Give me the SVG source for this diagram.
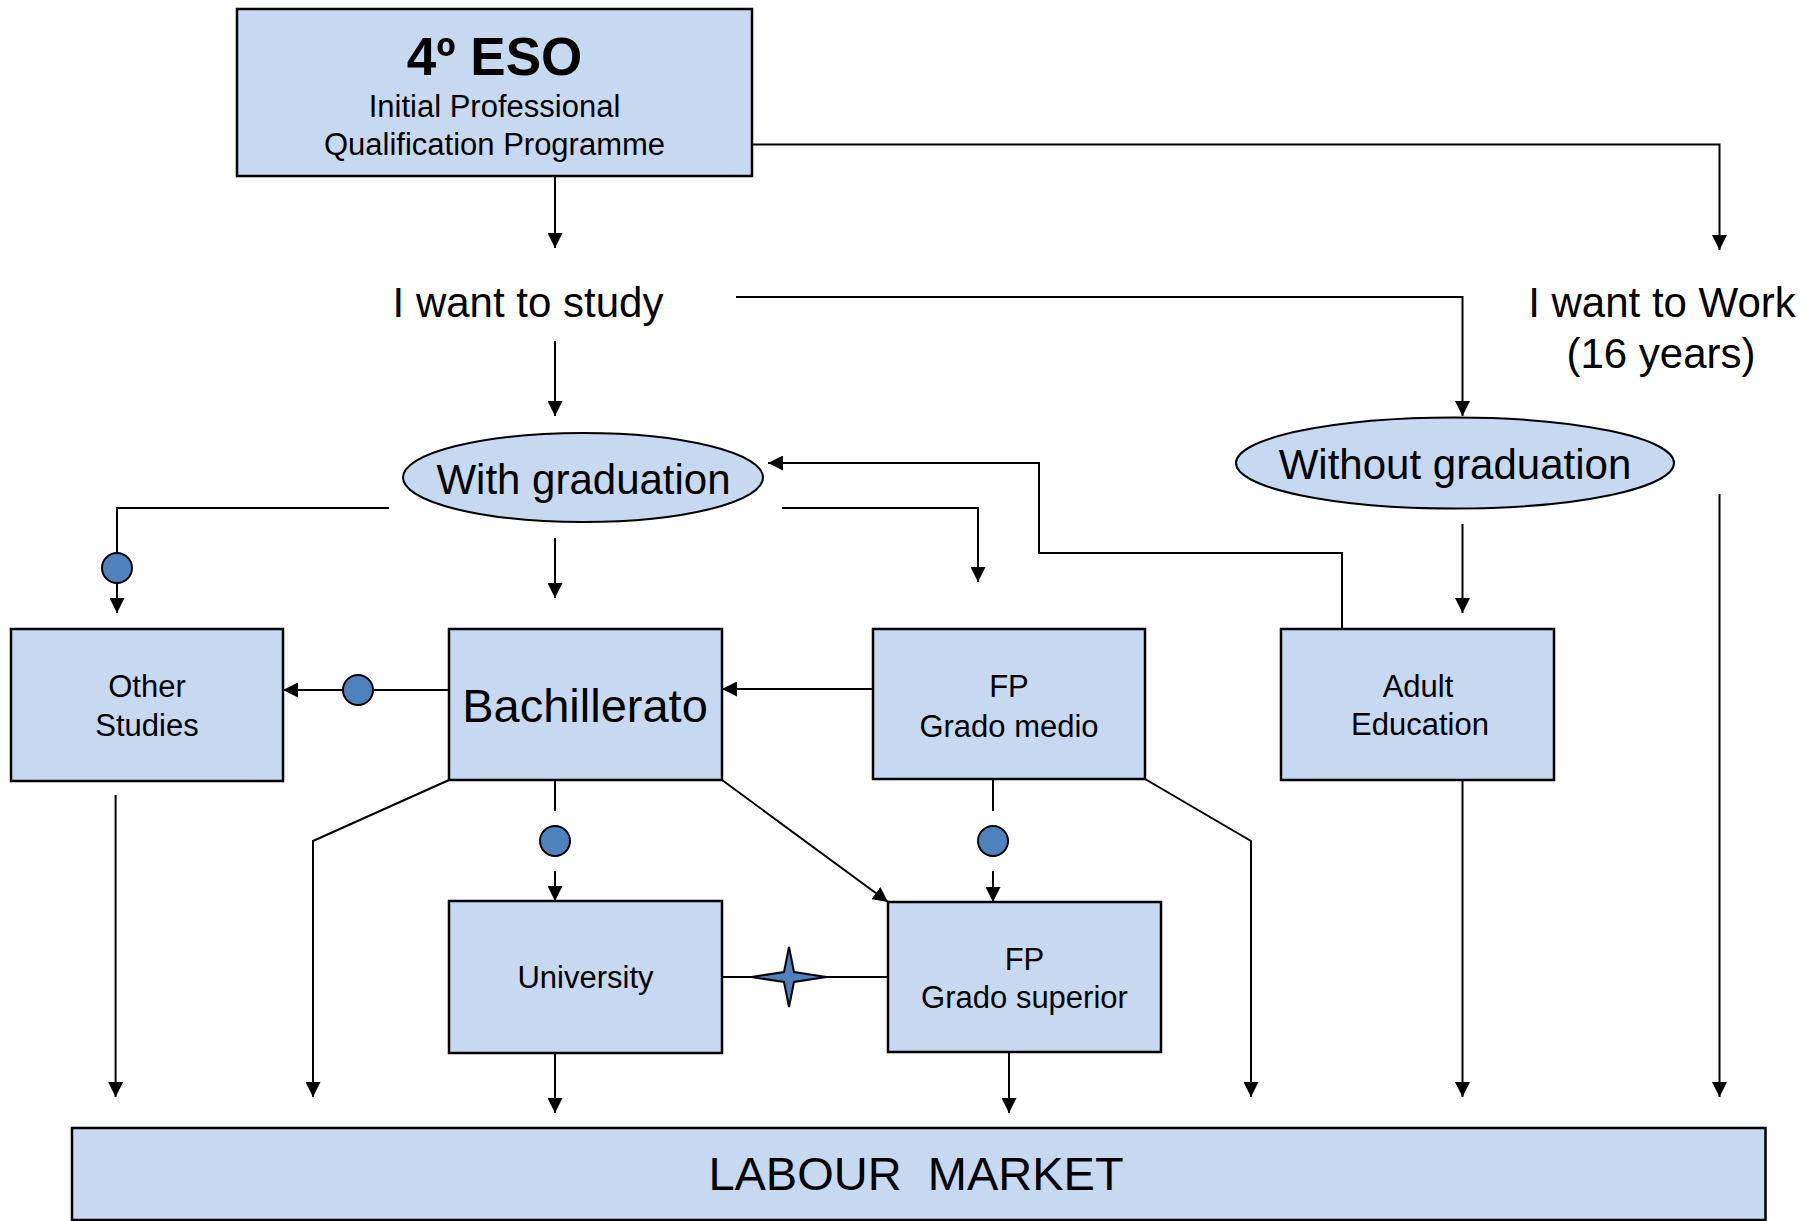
<svg xmlns="http://www.w3.org/2000/svg" width="1813" height="1221" viewBox="0 0 1813 1221">
<style>
.box{fill:#c6d9f0;stroke:#000;stroke-width:2.5}
.ell{fill:#c6d9f0;stroke:#000;stroke-width:2}
.t{font-family:"Liberation Sans",Arial,sans-serif;fill:#000;text-anchor:middle}
.c{fill:none;stroke:#000;stroke-width:2}
.a{marker-end:url(#arr)}
.dot{fill:#4f81bd;stroke:#000;stroke-width:2}
</style>
<defs>
<marker id="arr" markerUnits="userSpaceOnUse" markerWidth="15" markerHeight="15" refX="15" refY="7.5" orient="auto">
<path d="M0,0 L15,7.5 L0,15 z" fill="#000"/>
</marker>
</defs>
<rect width="1813" height="1221" fill="#fff"/>
<g id="connectors">
<path class="c a" d="M555,176 V248"/>
<path class="c a" d="M752,144.5 H1719.5 V250"/>
<path class="c a" d="M555,341 V416"/>
<path class="c a" d="M736,297 H1462.5 V416"/>
<path class="c a" d="M1719.5,494 V1097"/>
<path class="c a" d="M389,508 H117 V613"/>
<circle class="dot" cx="117" cy="568" r="15"/>
<path class="c a" d="M555,538 V598"/>
<path class="c a" d="M782,508 H978 V582"/>
<path class="c a" d="M1342,629 V553 H1039 V463 H768"/>
<path class="c a" d="M1462.5,524 V613"/>
<path class="c a" d="M449,690 H283"/>
<circle class="dot" cx="358" cy="690" r="15"/>
<path class="c a" d="M873,689 H722"/>
<path class="c" d="M555,780 V811"/>
<circle class="dot" cx="555" cy="841" r="15"/>
<path class="c a" d="M555,871 V901"/>
<path class="c" d="M993,779 V811"/>
<circle class="dot" cx="993" cy="841" r="15"/>
<path class="c a" d="M993,871 V902"/>
<path class="c a" d="M722,780 L888,902"/>
<path class="c" d="M722,977 H888"/>
<path class="dot" d="M789,947 L794,972 L826.5,977 L794,982 L789,1007 L784,982 L751.5,977 L784,972 Z"/>
<path class="c a" d="M115.6,795 V1097"/>
<path class="c a" d="M449,780 L313,841 V1097"/>
<path class="c a" d="M555,1053 V1113"/>
<path class="c a" d="M1009,1052 V1113"/>
<path class="c a" d="M1145,779 L1251,841 V1097"/>
<path class="c a" d="M1462.5,780 V1097"/>
</g>
<g id="eso">
<rect class="box" x="237" y="9" width="515" height="167"/>
<text class="t" x="494.5" y="75" font-size="53" font-weight="bold">4º ESO</text>
<text class="t" x="494.5" y="117" font-size="31">Initial Professional</text>
<text class="t" x="494.5" y="155" font-size="31">Qualification Programme</text>
</g>
<g id="study"><text class="t" x="528" y="317" font-size="42">I want to study</text></g>
<g id="work">
<text class="t" x="1662" y="317" font-size="42">I want to Work</text>
<text class="t" x="1661" y="368" font-size="42">(16 years)</text>
</g>
<g id="with-grad">
<ellipse class="ell" cx="583" cy="477.5" rx="180" ry="44.5"/>
<text class="t" x="583.5" y="494" font-size="42">With graduation</text>
</g>
<g id="without-grad">
<ellipse class="ell" cx="1455" cy="463" rx="219" ry="45.5"/>
<text class="t" x="1455" y="479" font-size="42">Without graduation</text>
</g>
<g id="other">
<rect class="box" x="11" y="629" width="272" height="152"/>
<text class="t" x="147" y="697" font-size="31">Other</text>
<text class="t" x="147" y="736" font-size="31">Studies</text>
</g>
<g id="bachillerato">
<rect class="box" x="449" y="629" width="273" height="151"/>
<text class="t" x="585" y="722" font-size="47">Bachillerato</text>
</g>
<g id="fp-medio">
<rect class="box" x="873" y="629" width="272" height="150"/>
<text class="t" x="1009" y="697" font-size="31">FP</text>
<text class="t" x="1009" y="737" font-size="31">Grado medio</text>
</g>
<g id="adult">
<rect class="box" x="1281" y="629" width="273" height="151"/>
<text class="t" x="1418" y="697" font-size="31">Adult</text>
<text class="t" x="1420" y="735" font-size="31">Education</text>
</g>
<g id="university">
<rect class="box" x="449" y="901" width="273" height="152"/>
<text class="t" x="585.5" y="988" font-size="31">University</text>
</g>
<g id="fp-superior">
<rect class="box" x="888" y="902" width="273" height="150"/>
<text class="t" x="1024.5" y="970" font-size="31">FP</text>
<text class="t" x="1024.5" y="1008" font-size="31">Grado superior</text>
</g>
<g id="labour">
<rect class="box" x="72" y="1128" width="1693.5" height="92"/>
<text class="t" x="916" y="1190" font-size="47" xml:space="preserve">LABOUR  MARKET</text>
</g>
</svg>
